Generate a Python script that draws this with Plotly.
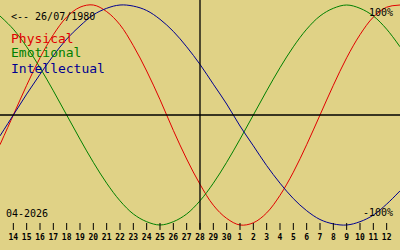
import plotly.graph_objects as go

# day index -1 .. 29 (index 0 = first labelled day, 14th)
days = list(range(-1, 30))

physical = [-0.27, 0.00, 0.27, 0.52, 0.73, 0.89, 0.98, 1.00, 0.94, 0.82, 0.63, 0.40, 0.14, -0.14,
            -0.40, -0.63, -0.82, -0.94, -1.00, -0.98, -0.89, -0.73, -0.52, -0.27, 0.00, 0.27,
            0.52, 0.73, 0.89, 0.98, 1.00]
emotional = [0.90, 0.78, 0.62, 0.43, 0.22, 0.00, -0.22, -0.43, -0.62, -0.78, -0.90, -0.97, -1.00,
             -0.97, -0.90, -0.78, -0.62, -0.43, -0.22, 0.00, 0.22, 0.43, 0.62, 0.78, 0.90, 0.97,
             1.00, 0.97, 0.90, 0.78, 0.62]
intellectual = [-0.19, 0.00, 0.19, 0.37, 0.54, 0.69, 0.81, 0.91, 0.97, 1.00, 0.99, 0.95, 0.87,
                0.76, 0.62, 0.46, 0.28, 0.10, -0.10, -0.28, -0.46, -0.62, -0.76, -0.87, -0.95,
                -0.99, -1.00, -0.97, -0.91, -0.81, -0.69]

tick_days = list(range(0, 29))
tick_text = ["14", "15", "16", "17", "18", "19", "20", "21", "22", "23", "24", "25", "26", "27",
             "28", "29", "30", "1", "2", "3", "4", "5", "6", "7", "8", "9", "10", "11", "12"]
today_index = 14

BG = "#e0d286"
RED = "#e00000"
GREEN = "#008000"
BLUE = "#000090"
MONO = "DejaVu Sans Mono"

fig = go.Figure()

for vals, col in [(physical, RED), (emotional, GREEN), (intellectual, BLUE)]:
    fig.add_trace(go.Scatter(x=days, y=vals, mode="lines",
                             line=dict(color=col, width=1, shape="spline", smoothing=1.0),
                             hoverinfo="skip"))

# zero line and centre (today) line
fig.add_shape(type="line", xref="paper", yref="y", x0=0, x1=1, y0=0, y1=0,
              line=dict(color="black", width=1.3))
fig.add_shape(type="line", xref="x", yref="y", x0=today_index, x1=today_index, y0=-1.04, y1=1.05,
              line=dict(color="black", width=1.3))

# tick marks
for d in tick_days:
    fig.add_shape(type="line", xref="x", yref="y", x0=d, x1=d, y0=-0.982, y1=-1.045,
                  line=dict(color="black", width=1))

fig.add_trace(go.Scatter(x=tick_days, y=[-1.114] * len(tick_days), mode="text",
                         text=["<b>%s</b>" % t for t in tick_text],
                         textfont=dict(family=MONO, size=8, color="black"),
                         textposition="middle center", hoverinfo="skip"))

def ann(text, px, py, color="black", size=10, anchor="left"):
    fig.add_annotation(text=text, xref="paper", yref="paper", x=px / 400, y=1 - py / 250,
                       xanchor=anchor, yanchor="middle", showarrow=False,
                       font=dict(family=MONO, size=size, color=color))

ann("&lt;-- 26/07/1980", 9, 16.5, size=10)
ann("Physical", 9, 38, RED, 13)
ann("Emotional", 9, 53, GREEN, 13)
ann("Intellectual", 9, 68, BLUE, 13)
ann("04-2026", 3.5, 213, size=10)
ann("100%", 395, 12.5, size=10, anchor="right")
ann("-100%", 395, 212.5, size=10, anchor="right")

fig.update_layout(
    width=400, height=250, margin=dict(l=0, r=0, t=0, b=0),
    paper_bgcolor=BG, plot_bgcolor=BG, showlegend=False, hovermode=False,
    xaxis=dict(range=[-1, 29], visible=False, fixedrange=True),
    yaxis=dict(range=[-135 / 110, 115 / 110], visible=False, fixedrange=True),
)

fig.write_html("out.html", config={"displayModeBar": False})
